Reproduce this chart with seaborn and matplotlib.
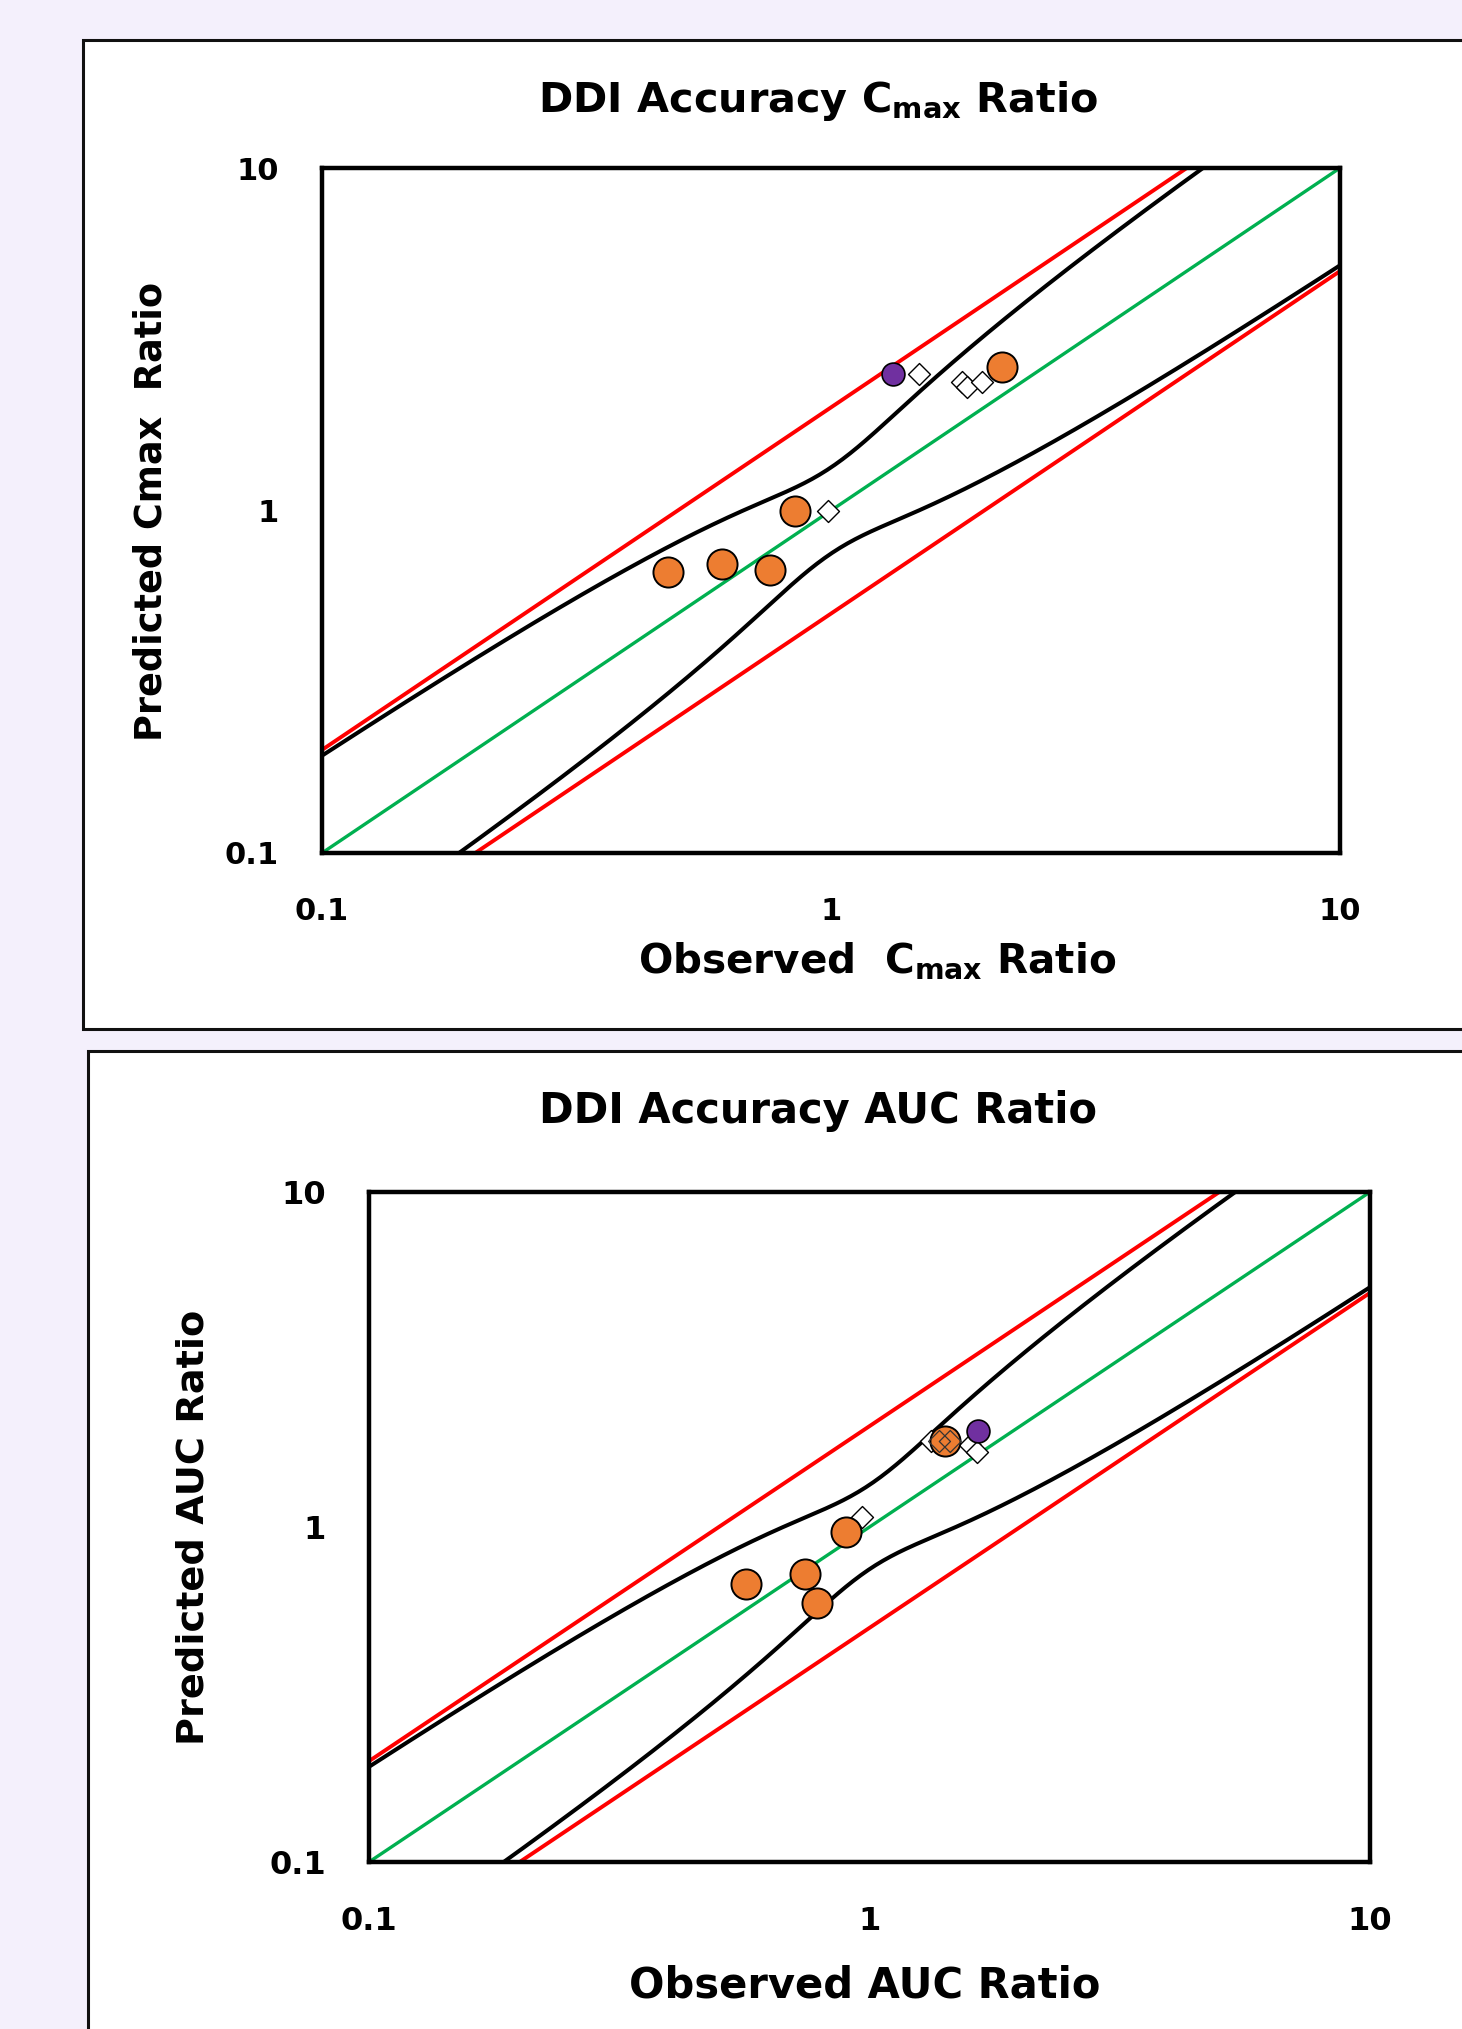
import numpy as np
import matplotlib
matplotlib.use("Agg")
import matplotlib.pyplot as plt
import seaborn as sns
from matplotlib.patches import Rectangle

# ---- data ----
cmax_obs = [0.479, 0.612, 0.759, 0.850, 2.17]
cmax_pred = [0.660, 0.697, 0.670, 0.997, 2.63]
cmax_purple_obs = [1.326]
cmax_purple_pred = [2.50]
cmax_diam_obs = [0.988, 1.491, 1.806, 1.848, 1.977]
cmax_diam_pred = [1.00, 2.50, 2.377, 2.30, 2.377]

auc_obs = [0.566, 0.743, 0.784, 0.896, 1.415]
auc_pred = [0.675, 0.722, 0.592, 0.968, 1.806]
auc_purple_obs = [1.65]
auc_purple_pred = [1.94]
auc_diam_obs = [0.965, 1.33, 1.588, 1.637]
auc_diam_pred = [1.073, 1.80, 1.757, 1.68]
auc_diam_top_obs = [1.38, 1.45]
auc_diam_top_pred = [1.80, 1.80]

axis_ticks = [0.1, 1, 10]
tick_labels = ["0.1", "1", "10"]

ORANGE = "#ED7D31"
PURPLE = "#7030A0"
GREEN = "#00B050"
RED = "#FF0000"

sns.set_style("white")
plt.rcParams["font.family"] = ["DejaVu Sans"]
plt.rcParams["font.weight"] = "bold"
plt.rcParams["mathtext.default"] = "regular"
plt.rcParams["text.color"] = "black"
plt.rcParams["xtick.color"] = "black"
plt.rcParams["ytick.color"] = "black"
plt.rcParams["axes.labelcolor"] = "black"

fig = plt.figure(figsize=(14.62, 20.29), dpi=100)
fig.patch.set_facecolor("#f4f0fc")
W, H = 1462.0, 2029.0

# white panel frames
for x0, y0, y1 in [(83, 40, 1029), (88, 1051, 2100)]:
    fig.patches.append(Rectangle((x0 / W, 1 - y1 / H), (W + 50 - x0) / W, (y1 - y0) / H,
                                 transform=fig.transFigure, facecolor="white",
                                 edgecolor="#111111", linewidth=2.2, zorder=-5))


def guest(x, delta=1.25):
    # Guest et al. acceptance limits, smoothed a little in log space
    lx = np.log10(x)
    step = lx[1] - lx[0]
    pad = 80
    lxe = np.concatenate([lx[0] - step * np.arange(pad, 0, -1), lx, lx[-1] + step * np.arange(1, pad + 1)])
    xe = 10 ** lxe
    r = np.where(xe >= 1, xe, 1 / xe)
    lim = np.log10((delta + 2 * (r - 1)) / r)
    k = np.arange(-pad, pad + 1) * step
    g = np.exp(-0.5 * (k / 0.07) ** 2)
    g /= g.sum()
    lim_s = np.convolve(lim, g, mode="same")[pad:-pad]
    return x * 10 ** lim_s, x / 10 ** lim_s


def panel(rect, obs, pred, p_obs, p_pred, d_obs, d_pred, title, xlab, ylab,
          title_pos, xlab_pos, ylab_pos, sizes, top_d=None):
    t_size, x_size, y_size, tick_size = sizes
    ax = fig.add_axes(rect)
    ax.set_facecolor("white")
    xs = np.logspace(-1, 1, 400)
    up, lo = guest(xs)
    sns.lineplot(x=xs, y=xs * 2, ax=ax, color=RED, lw=2.8, sort=False, estimator=None)
    sns.lineplot(x=xs, y=xs * 0.5, ax=ax, color=RED, lw=2.8, sort=False, estimator=None)
    sns.lineplot(x=xs, y=up, ax=ax, color="black", lw=2.9, sort=False, estimator=None)
    sns.lineplot(x=xs, y=lo, ax=ax, color="black", lw=2.9, sort=False, estimator=None)
    sns.lineplot(x=xs, y=xs, ax=ax, color=GREEN, lw=2.4, sort=False, estimator=None)
    sns.scatterplot(x=d_obs, y=d_pred, ax=ax, marker="D", s=125, color="white",
                    edgecolor="black", linewidth=1.0, zorder=4)
    sns.scatterplot(x=obs, y=pred, ax=ax, marker="o", s=470, color=ORANGE,
                    edgecolor="black", linewidth=1.4, zorder=5)
    sns.scatterplot(x=p_obs, y=p_pred, ax=ax, marker="o", s=270, color=PURPLE,
                    edgecolor="black", linewidth=1.2, zorder=6)
    if top_d is not None:
        sns.scatterplot(x=top_d[0], y=top_d[1], ax=ax, marker="D", s=125,
                        facecolor="none", edgecolor="#333333", linewidth=0.9, zorder=7)
    ax.set_xscale("log")
    ax.set_yscale("log")
    ax.set_xlim(0.1, 10)
    ax.set_ylim(0.1, 10)
    ax.set_xticks(axis_ticks)
    ax.set_xticklabels(tick_labels)
    ax.set_yticks(axis_ticks)
    ax.set_yticklabels(tick_labels)
    ax.minorticks_off()
    ax.tick_params(axis="both", length=0, labelsize=tick_size)
    ax.tick_params(axis="x", pad=32)
    ax.tick_params(axis="y", pad=31)
    for lab in ax.get_xticklabels() + ax.get_yticklabels():
        lab.set_fontweight("bold")
    for sp in ax.spines.values():
        sp.set_visible(True)
        sp.set_color("black")
        sp.set_linewidth(3.2)
    ax.text(title_pos[0], title_pos[1], title, transform=ax.transAxes, ha="center",
            va="center", fontsize=t_size, fontweight="bold")
    ax.set_xlabel(xlab, fontsize=x_size, fontweight="bold", va="center")
    ax.xaxis.set_label_coords(*xlab_pos)
    ax.set_ylabel(ylab, fontsize=y_size, fontweight="bold", va="center")
    ax.yaxis.set_label_coords(*ylab_pos)
    return ax


panel([322 / W, 1 - 853 / H, 1018 / W, 685 / H],
      cmax_obs, cmax_pred, cmax_purple_obs, cmax_purple_pred, cmax_diam_obs, cmax_diam_pred,
      "DDI Accuracy C$_{max}$ Ratio", "Observed  C$_{max}$ Ratio", "Predicted Cmax  Ratio",
      (0.487, 1.098), (0.545, -0.158), (-0.168, 0.499), (29.8, 29.2, 26.4, 22))

panel([369 / W, 1 - 1862 / H, 1001 / W, 670 / H],
      auc_obs, auc_pred, auc_purple_obs, auc_purple_pred, auc_diam_obs, auc_diam_pred,
      "DDI Accuracy AUC Ratio", "Observed AUC Ratio", "Predicted AUC Ratio",
      (0.4486, 1.121), (0.4955, -0.185), (-0.175, 0.5), (30, 30, 27.5, 23),
      top_d=(auc_diam_top_obs, auc_diam_top_pred))

fig.savefig("out.png", dpi=100, facecolor=fig.get_facecolor())
